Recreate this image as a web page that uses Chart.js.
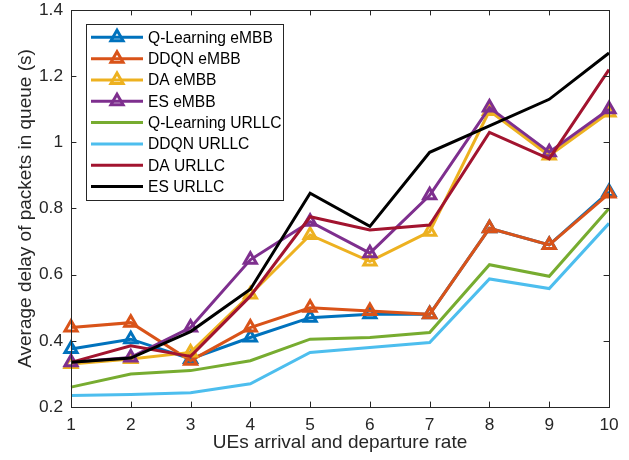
<!DOCTYPE html>
<html>
<head>
<meta charset="utf-8">
<script src="https://cdn.jsdelivr.net/npm/chart.js@4/dist/chart.umd.min.js"></script>
<style>
  html, body { margin: 0; padding: 0; background: #fff; }
  #wrap { width: 629px; height: 460px; position: relative; }
</style>
</head>
<body>
<div id="wrap"><canvas id="c" width="629" height="460"></canvas></div>
<script>
// Arrival/departure rate categories
const rates = ['1', '2', '3', '4', '5', '6', '7', '8', '9', '10'];

// Average queue delay (s) per scheme and slice
const qlEmbb    = [0.375, 0.405, 0.345, 0.41, 0.47, 0.48, 0.48, 0.74, 0.69, 0.85];
const ddqnEmbb  = [0.44, 0.455, 0.34, 0.44, 0.50, 0.49, 0.48, 0.74, 0.69, 0.845];
const daEmbb    = [0.33, 0.345, 0.365, 0.54, 0.72, 0.64, 0.73, 1.095, 0.96, 1.09];
const esEmbb    = [0.335, 0.35, 0.44, 0.645, 0.76, 0.665, 0.84, 1.105, 0.97, 1.10];
const qlUrllc   = [0.26, 0.30, 0.31, 0.34, 0.405, 0.41, 0.425, 0.63, 0.595, 0.80];
const ddqnUrllc = [0.235, 0.238, 0.243, 0.27, 0.365, 0.38, 0.395, 0.587, 0.558, 0.755];
const daUrllc   = [0.335, 0.385, 0.353, 0.535, 0.775, 0.735, 0.75, 1.03, 0.95, 1.22];
const esUrllc   = [0.335, 0.348, 0.428, 0.556, 0.846, 0.746, 0.97, 1.05, 1.13, 1.27];

// Y tick values
const yTicks = [0.2, 0.4, 0.6, 0.8, 1.0, 1.2, 1.4];

const FONT = "'Liberation Sans', Arial, Helvetica, sans-serif";
const AX = '#262626';

const series = [
  { label: 'Q-Learning eMBB',  data: qlEmbb,    color: '#0072BD', marker: true },
  { label: 'DDQN eMBB',        data: ddqnEmbb,  color: '#D95319', marker: true },
  { label: 'DA eMBB',          data: daEmbb,    color: '#EDB120', marker: true },
  { label: 'ES eMBB',          data: esEmbb,    color: '#7E2F8E', marker: true },
  { label: 'Q-Learning URLLC', data: qlUrllc,   color: '#77AC30', marker: false },
  { label: 'DDQN URLLC',       data: ddqnUrllc, color: '#4DBEEE', marker: false },
  { label: 'DA URLLC',         data: daUrllc,   color: '#A2142F', marker: false },
  { label: 'ES URLLC',         data: esUrllc,   color: '#000000', marker: false }
];

const MARK_R = 7;
const MARK_W = 3;

const datasets = series.map((s, i) => ({
  label: s.label,
  data: s.data,
  borderColor: s.color,
  backgroundColor: 'rgba(0,0,0,0)',
  borderWidth: 3,
  tension: 0,
  pointStyle: 'triangle',
  pointRadius: s.marker ? MARK_R : 0,
  pointBorderWidth: MARK_W,
  pointBorderColor: s.color,
  pointBackgroundColor: 'rgba(255,255,255,0)',
  pointHoverRadius: s.marker ? MARK_R : 0,
  order: series.length - 1 - i
}));

function triangle(ctx, x, y, r) {
  let rad = 0;
  ctx.beginPath();
  ctx.moveTo(x + Math.sin(rad) * r, y - Math.cos(rad) * r);
  rad += 2 * Math.PI / 3;
  ctx.lineTo(x + Math.sin(rad) * r, y - Math.cos(rad) * r);
  rad += 2 * Math.PI / 3;
  ctx.lineTo(x + Math.sin(rad) * r, y - Math.cos(rad) * r);
  ctx.closePath();
}

// Box around the axes with inward ticks on all four sides
const axesBox = {
  id: 'axesBox',
  afterDatasetsDraw(chart) {
    const { ctx, chartArea: a, scales: { x, y } } = chart;
    const t = 5.4;
    ctx.save();
    ctx.strokeStyle = AX;
    ctx.lineWidth = 1;
    ctx.strokeRect(Math.round(a.left) + 0.5, Math.round(a.top) + 0.5,
                   Math.round(a.right - a.left), Math.round(a.bottom - a.top));
    ctx.beginPath();
    rates.forEach((_, i) => {
      const px = Math.round(x.getPixelForValue(i)) + 0.5;
      ctx.moveTo(px, a.bottom); ctx.lineTo(px, a.bottom - t);
      ctx.moveTo(px, a.top); ctx.lineTo(px, a.top + t);
    });
    yTicks.forEach(v => {
      const py = Math.round(y.getPixelForValue(v)) + 0.5;
      ctx.moveTo(a.left, py); ctx.lineTo(a.left + t, py);
      ctx.moveTo(a.right, py); ctx.lineTo(a.right - t, py);
    });
    ctx.stroke();
    ctx.restore();
  }
};

// Legend drawn inside the plot area, upper left
const innerLegend = {
  id: 'innerLegend',
  afterDraw(chart) {
    const { ctx } = chart;
    const box = { x: 86, y: 24, w: 197, h: 176 };
    const row0 = 37.3, rowH = 21.33;
    ctx.save();
    ctx.fillStyle = '#fff';
    ctx.fillRect(box.x, box.y, box.w, box.h);
    ctx.strokeStyle = AX;
    ctx.lineWidth = 1;
    ctx.strokeRect(box.x + 0.5, box.y + 0.5, box.w, box.h);
    chart.data.datasets.forEach((ds, i) => {
      const yy = row0 + i * rowH;
      ctx.strokeStyle = ds.borderColor;
      ctx.lineWidth = 3;
      ctx.beginPath();
      ctx.moveTo(91, yy); ctx.lineTo(143, yy);
      ctx.stroke();
      if (ds.pointRadius > 0) {
        ctx.lineWidth = MARK_W;
        triangle(ctx, 117, yy, MARK_R);
        ctx.stroke();
      }
      ctx.fillStyle = '#000';
      ctx.font = '15.6px ' + FONT;
      ctx.textBaseline = 'middle';
      ctx.textAlign = 'left';
      ctx.fillText(ds.label, 148, yy + 1);
    });
    ctx.restore();
  }
};

new Chart(document.getElementById('c'), {
  type: 'line',
  data: { labels: rates, datasets },
  options: {
    responsive: false,
    animation: false,
    events: [],
    layout: { padding: { top: 10, right: 20, left: 0, bottom: 0 } },
    plugins: { legend: { display: false }, tooltip: { enabled: false } },
    scales: {
      x: {
        type: 'category',
        offset: false,
        grid: { display: false, drawTicks: false },
        border: { display: false },
        ticks: { color: AX, font: { family: FONT, size: 17.3 }, padding: 8, maxRotation: 0 },
        title: { display: true, text: 'UEs arrival and departure rate', color: AX,
                 font: { family: FONT, size: 19 }, padding: { top: 0, bottom: 6 } },
        afterFit(s) { s.height = 53; s.paddingLeft = 0; s.paddingRight = 0; }
      },
      y: {
        min: 0.2, max: 1.4,
        grid: { display: false, drawTicks: false },
        border: { display: false },
        afterBuildTicks(s) { s.ticks = yTicks.map(v => ({ value: v })); },
        ticks: {
          color: AX, font: { family: FONT, size: 17.3 }, padding: 8,
          callback: v => String(Math.round(v * 10) / 10)
        },
        title: { display: true, text: 'Average delay of packets in queue (s)', color: AX,
                 font: { family: FONT, size: 19 }, padding: { top: 14, bottom: 0 } },
        afterFit(s) { s.width = 71; s.paddingTop = 0; s.paddingBottom = 0; }
      }
    }
  },
  plugins: [axesBox, innerLegend]
});
</script>
</body>
</html>
